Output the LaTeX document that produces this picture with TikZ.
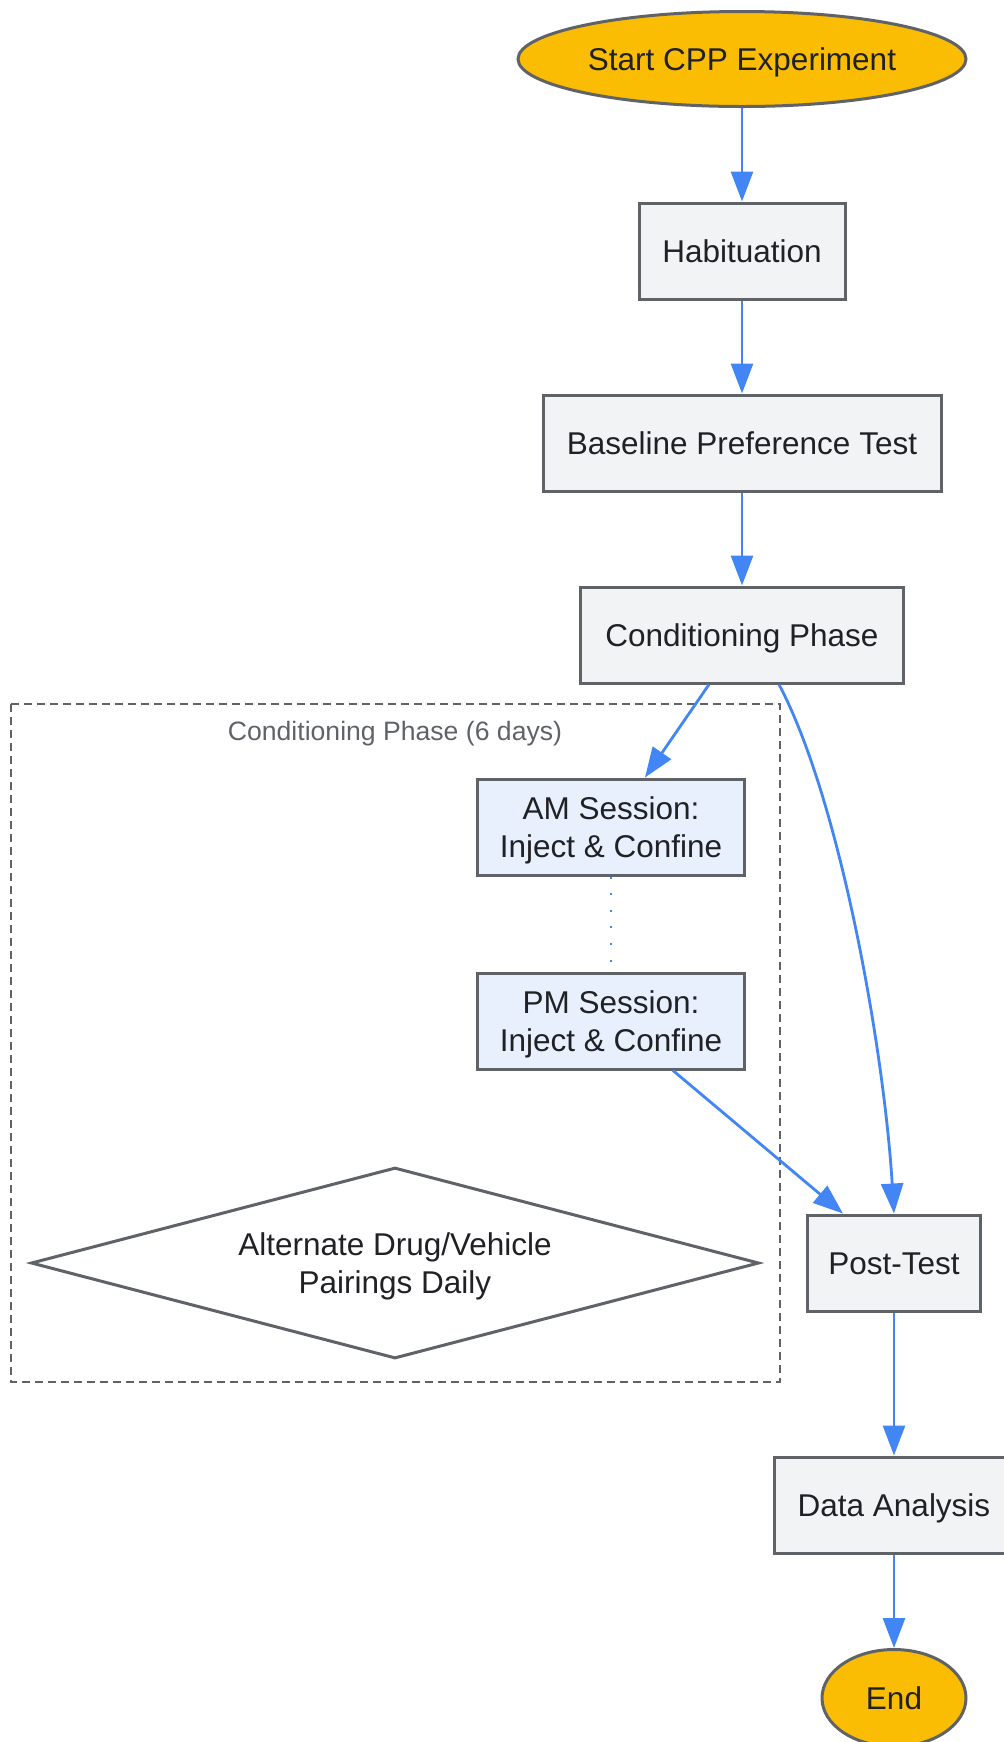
\documentclass[tikz,border=0pt]{standalone}
\usepackage{fontspec}
\setmainfont{Liberation Sans}
\usepackage{tikz}
\usetikzlibrary{calc, shapes.geometric, arrows.meta}

\definecolor{cppyellow}{HTML}{FBBC04}
\definecolor{cppgray}{HTML}{5F6368}
\definecolor{boxfill}{HTML}{F1F3F4}
\definecolor{sessfill}{HTML}{E8F0FE}
\definecolor{flowblue}{HTML}{4285F4}
\definecolor{inktext}{HTML}{202124}

\begin{document}
\begin{tikzpicture}[x=0.5pt, y=-0.5pt,
  every node/.style={font=\fontsize{15.75}{19}\selectfont, text=inktext},
  oneline/.style={text height=11.8pt, text depth=0pt},
  twoline/.style={align=center, text depth=-0.4pt},
  terminal/.style={ellipse, draw=cppgray, fill=cppyellow, line width=1.5pt, inner sep=0pt, oneline},
  stepbox/.style={rectangle, draw=cppgray, fill=boxfill, line width=1.5pt, minimum height=48pt, inner sep=0pt, oneline},
  session/.style={rectangle, draw=cppgray, fill=sessfill, line width=1.5pt, minimum height=48pt, inner sep=0pt, twoline},
  choice/.style={diamond, aspect=3.8, draw=cppgray, fill=white, line width=1.5pt, inner sep=0pt, twoline},
  flow/.style={-{Triangle[length=15pt,width=11pt]}, draw=flowblue, line width=1.4pt},
]

\newcommand{\midx}{742}
\newcommand{\rightx}{894}
\newcommand{\sessx}{611}

\useasboundingbox (0,0) rectangle (1004,1742);

% 6 day block
\draw [cppgray, line width=1pt, dash pattern=on 4pt off 2.5pt] (11,704) rectangle (780,1382);
\node [text=cppgray, font=\fontsize{13.3}{16}\selectfont] (blocklabel) at (395,734) {Conditioning Phase (6 days)};

\node [terminal, minimum width=224pt, minimum height=47.5pt] (start) at (\midx,59) {Start CPP Experiment};
\node [stepbox, minimum width=103pt] (habit) at (\midx,251) {Habituation};
\node [stepbox, minimum width=199pt] (baseline) at (\midx,443) {Baseline Preference Test};
\node [stepbox, minimum width=161.5pt] (cond) at (\midx,635) {Conditioning Phase};

\node [session, minimum width=133.5pt] (am) at (\sessx,827) {AM Session:\\Inject \& Confine};
\node [session, minimum width=133.5pt] (pm) at (\sessx,1021) {PM Session:\\Inject \& Confine};
\node [choice, minimum width=364pt, minimum height=95.5pt] (alt) at (395,1263) {Alternate Drug/Vehicle\\Pairings Daily};

\node [stepbox, minimum width=86.5pt] (post) at (\rightx,1263) {Post-Test};
\node [stepbox, minimum width=119.5pt] (analysis) at (\rightx,1505) {Data Analysis};
\node [terminal, minimum width=72pt, minimum height=48.5pt] (finish) at (\rightx,1698) {End};

\foreach \a/\b in {start/habit, habit/baseline, baseline/cond, post/analysis, analysis/finish}
{
\draw [flow] (\a) -- (\b);
}

\draw [flow] ($(cond.south)+(-33,0)$) -- ($(am.north)+(34,0)$);
\draw [flow] ($(cond.south)+(37,0)$) .. controls +(61,115) and +(-10,-164) .. (post.north);
\draw [flow] ($(pm.south)+(62,0)$) -- ($(post.north)+(-51,0)$);
% no tip here
\draw [flowblue, line width=1.2pt, dash pattern=on 1pt off 7.3pt] (am) -- (pm);

\end{tikzpicture}
\end{document}
